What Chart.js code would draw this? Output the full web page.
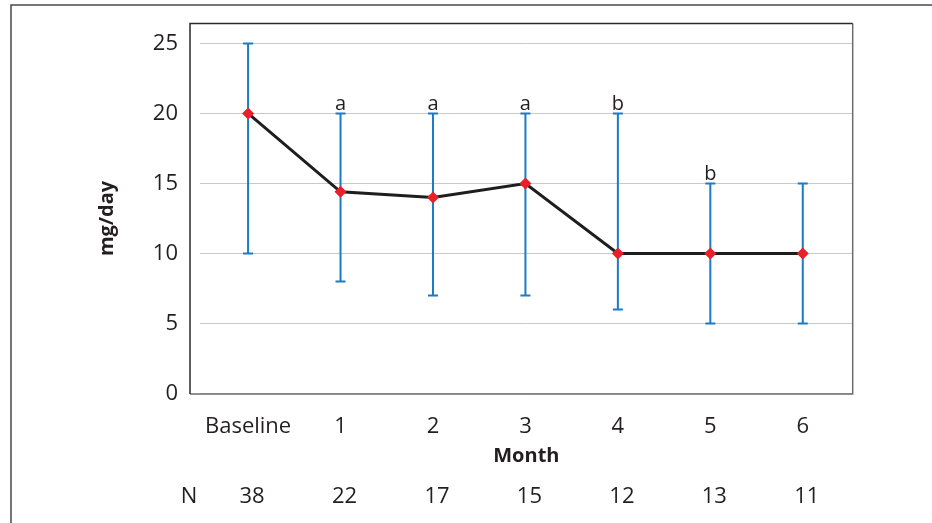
<!DOCTYPE html>
<html>
<head>
<meta charset="utf-8">
<script src="https://cdn.jsdelivr.net/npm/chart.js@4.4.0/dist/chart.umd.min.js"></script>
<style>
  html, body { margin: 0; padding: 0; background: #fff; }
  #wrap { width: 932px; height: 523px; position: relative; }
</style>
</head>
<body>
<div id="wrap"><canvas id="c" width="932" height="523"></canvas></div>
<script>
// Dose over follow-up months (median with range)
const categories = ['Baseline', '1', '2', '3', '4', '5', '6'];
const meanDose = [20, 14.4, 14, 15, 10, 10, 10];
const upperDose = [25, 20, 20, 20, 20, 15, 15];
const lowerDose = [10, 8, 7, 7, 6, 5, 5];
const patientCounts = [38, 22, 17, 15, 12, 13, 11];
const significance = ['', 'a', 'a', 'a', 'b', 'b', ''];
const yTicks = [0, 5, 10, 15, 20, 25];

const FONT = '"Open Sans", "Noto Sans", sans-serif';
const TEXT = '#231f20';

const decorations = {
  id: 'decorations',
  beforeDraw(chart) {
    const ctx = chart.ctx;
    ctx.save();
    ctx.strokeStyle = '#4a4a4a';
    ctx.lineWidth = 1.5;
    ctx.beginPath();
    ctx.moveTo(11, 523);
    ctx.lineTo(11, 5);
    ctx.lineTo(932, 5);
    ctx.stroke();
    ctx.restore();
  },
  beforeDatasetsDraw(chart) {
    const ctx = chart.ctx, xs = chart.scales.x, ys = chart.scales.y;
    ctx.save();
    ctx.strokeStyle = '#1b7bc4';
    ctx.lineWidth = 2;
    categories.forEach((c, i) => {
      const x = xs.getPixelForValue(i);
      const yT = ys.getPixelForValue(upperDose[i]);
      const yB = ys.getPixelForValue(lowerDose[i]);
      ctx.beginPath();
      ctx.moveTo(x, yT); ctx.lineTo(x, yB);
      ctx.moveTo(x - 5, yT); ctx.lineTo(x + 5, yT);
      ctx.moveTo(x - 5, yB); ctx.lineTo(x + 5, yB);
      ctx.stroke();
    });
    ctx.restore();
  },
  afterDatasetsDraw(chart) {
    const ctx = chart.ctx, xs = chart.scales.x, ys = chart.scales.y;
    const a = chart.chartArea;
    const fl = a.left - 10, ft = a.top - 20, fr = a.right, fb = a.bottom + 0.5;
    ctx.save();
    ctx.lineWidth = 1.5;
    ctx.strokeStyle = '#6e6e6e';
    ctx.beginPath();
    ctx.moveTo(fr, ft); ctx.lineTo(fr, fb); ctx.lineTo(fl, fb);
    ctx.stroke();
    ctx.strokeStyle = '#2a2a2a';
    ctx.beginPath();
    ctx.moveTo(fl, fb); ctx.lineTo(fl, ft); ctx.lineTo(fr, ft);
    ctx.stroke();

    ctx.fillStyle = TEXT;
    ctx.textAlign = 'center';
    ctx.textBaseline = 'alphabetic';
    ctx.font = '20px ' + FONT;
    significance.forEach((s, i) => {
      if (!s) return;
      ctx.fillText(s, xs.getPixelForValue(i), ys.getPixelForValue(upperDose[i]) - 3);
    });

    ctx.font = '22px ' + FONT;
    ctx.textBaseline = 'middle';
    ctx.fillText('N', fl - 1, 497);
    patientCounts.forEach((n, i) => {
      ctx.fillText(String(n), xs.getPixelForValue(i) + 4, 497);
    });
    ctx.restore();
  }
};

new Chart(document.getElementById('c'), {
  type: 'line',
  data: {
    datasets: [{
      data: meanDose.map((v, i) => ({ x: i, y: v })),
      borderColor: '#1e1e1e',
      borderWidth: 3,
      tension: 0,
      pointStyle: 'rectRot',
      pointRadius: 6,
      pointBackgroundColor: '#e8202a',
      pointBorderColor: '#e8202a',
      pointBorderWidth: 0
    }]
  },
  options: {
    responsive: false,
    animation: false,
    devicePixelRatio: 1,
    layout: { padding: { top: 43.5, right: 79.3, left: 0, bottom: 0 } },
    plugins: { legend: { display: false }, tooltip: { enabled: false } },
    scales: {
      x: {
        type: 'linear',
        min: -0.52,
        max: 6.54,
        afterBuildTicks: s => { s.ticks = categories.map((c, i) => ({ value: i })); },
        afterFit: s => { s.height = 129.6; },
        grid: { display: false, drawTicks: false },
        border: { display: false },
        ticks: {
          callback: v => categories[v],
          color: TEXT,
          font: { family: FONT, size: 22 },
          padding: 20,
          maxRotation: 0,
          autoSkip: false
        },
        title: {
          display: true,
          text: 'Month',
          color: TEXT,
          font: { family: FONT, size: 20, weight: 'bold' },
          padding: { top: 0, bottom: 55 }
        }
      },
      y: {
        min: 0,
        max: 25,
        afterBuildTicks: s => { s.ticks = yTicks.map(v => ({ value: v })); },
        afterFit: s => { s.width = 200; },
        grid: { color: '#c9c9c9', lineWidth: 1, drawTicks: false },
        border: { display: false },
        ticks: {
          color: TEXT,
          font: { family: FONT, size: 22 },
          padding: 22
        },
        title: {
          display: true,
          text: 'mg/day',
          color: TEXT,
          font: { family: FONT, size: 20, weight: 'bold' },
          padding: { top: 95, bottom: 0 }
        }
      }
    }
  },
  plugins: [decorations]
});
</script>
</body>
</html>
